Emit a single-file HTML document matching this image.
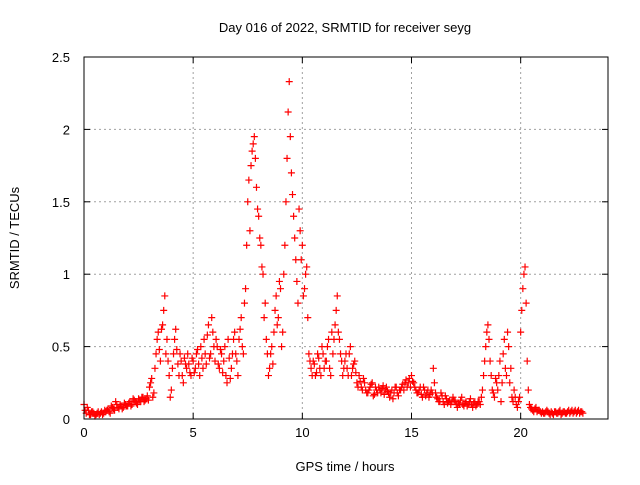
<!DOCTYPE html>
<html><head><meta charset="utf-8"><style>
html,body{margin:0;padding:0;background:#fff;}
svg text{font-family:"Liberation Sans",sans-serif;font-size:13px;fill:#000;}
</style></head><body>
<svg id="chart" width="640" height="480" viewBox="0 0 640 480">
<text x="345" y="32" text-anchor="middle">Day 016 of 2022, SRMTID for receiver seyg</text>
<text x="19" y="238" text-anchor="middle" transform="rotate(-90 19 238)">SRMTID / TECUs</text>
<text x="345" y="471" text-anchor="middle">GPS time / hours</text>
<g id="grid"></g>
<g id="marks"></g>
<rect x="84" y="57" width="524" height="362" fill="none" stroke="#000" stroke-width="1"/>
<g id="ticks"></g>
</svg>
<script>
const xTicks=[0,5,10,15,20];
const yTicks=[0,0.5,1,1.5,2,2.5];
const yTickLabels=["0","0.5","1","1.5","2","2.5"];
const tStart=0, tStep=0.1;
const srmtid=[
.10,.04,.06,.03,.05,.02,.04,.03,.05,.04,
.05,.07,.04,.08,.06,.10,.07,.09,.08,.10,
.09,.12,.10,.13,.11,.14,.12,.15,.13,.16,
.22,.28,.18,.45,.60,.40,.65,.85,.55,.30,
.20,.45,.62,.38,.45,.30,.42,.35,.38,.30,
.40,.35,.48,.30,.42,.55,.38,.65,.45,.60,
.40,.50,.35,.45,.40,.30,.55,.28,.45,.60,
.40,.55,.70,.45,.90,1.50,1.30,1.85,1.95,1.60,
1.40,1.20,1.00,.80,.45,.35,.50,.60,.85,.70,
.90,.60,1.20,1.80,2.33,1.70,1.40,1.10,.80,1.30,
1.20,.90,1.05,.45,.35,.40,.30,.45,.35,.50,
.35,.40,.55,.30,.45,.65,.85,.55,.40,.35,
.45,.30,.50,.35,.40,.25,.30,.22,.28,.20,
.18,.22,.25,.17,.20,.22,.18,.23,.20,.19,
.15,.20,.18,.22,.16,.20,.24,.25,.22,.28,
.30,.25,.20,.18,.22,.15,.20,.18,.15,.20,
.35,.18,.14,.12,.16,.10,.14,.12,.10,.15,
.12,.08,.10,.15,.09,.12,.10,.14,.08,.12,
.10,.12,.15,.30,.50,.65,.40,.20,.15,.25,
.30,.12,.45,.35,.60,.25,.15,.20,.10,.12,
.60,.90,1.05,.40,.10,.07,.05,.08,.06,.05,
.05,.04,.06,.04,.05,.03,.05,.04,.06,.04,
.05,.04,.06,.05,.04,.06,.05,.04,.05
];
const tStartMid=0.05;
const srmtidMid=[
.06,.08,.03,.05,.04,.03,.05,.04,.03,.06,
.06,.05,.09,.07,.12,.08,.10,.07,.11,.09,
.11,.09,.14,.12,.10,.13,.15,.12,.14,.13,
.25,.15,.35,.55,.48,.62,.75,.45,.40,.15,
.35,.55,.48,.30,.40,.25,.38,.45,.32,.42,
.32,.45,.38,.50,.35,.45,.58,.42,.70,.50,
.55,.38,.48,.32,.50,.25,.42,.35,.55,.45,
.30,.62,.50,.80,1.20,1.65,1.75,1.90,1.80,1.45,
1.25,1.05,.70,.55,.30,.45,.38,.75,.65,.95,
.50,1.00,1.50,2.12,1.95,1.55,1.25,.95,1.45,1.10,
.85,1.00,.70,.40,.30,.38,.32,.42,.30,.45,
.40,.50,.35,.60,.55,.75,.60,.45,.30,.40,
.35,.45,.30,.38,.32,.22,.26,.20,.25,.18,
.20,.24,.16,.22,.18,.20,.21,.17,.22,.18,
.18,.14,.22,.18,.20,.22,.20,.27,.25,.22,
.26,.22,.18,.20,.17,.22,.16,.20,.17,.18,
.25,.15,.12,.18,.12,.16,.11,.13,.12,.13,
.10,.11,.13,.10,.11,.09,.12,.10,.11,.09,
.12,.10,.20,.40,.60,.55,.30,.18,.28,.20,
.40,.25,.55,.30,.50,.35,.12,.15,.08,.15,
.75,1.00,.80,.20,.08,.06,.07,.05,.06,.04,
.04,.05,.05,.03,.04,.05,.04,.05,.03,.05,
.04,.05,.04,.06,.05,.04,.06,.05,.04
];
const X0=84,X1=608,Y0=419,Y1=57,XMAX=24,YMAX=2.5;
function xs(v){return X0+(X1-X0)*v/XMAX;}
function ys(v){return Y0-(Y0-Y1)*v/YMAX;}
const NS="http://www.w3.org/2000/svg";
const grid=document.getElementById('grid'),ticks=document.getElementById('ticks'),marks=document.getElementById('marks');
function mk(tag,attrs,parent){const e=document.createElementNS(NS,tag);for(const k in attrs)e.setAttribute(k,attrs[k]);parent.appendChild(e);return e;}
xTicks.forEach(function(t){
  const x=xs(t);
  if(t>0){const g=mk('line',{x1:x,x2:x,y1:Y1,y2:Y0,stroke:'#a0a0a0','stroke-dasharray':'2,3'},grid);
  
  }
  const a=mk('line',{x1:x,x2:x,y1:Y0,y2:Y0-6,stroke:'#000'},ticks);
  
  
  const b=mk('line',{x1:x,x2:x,y1:Y1,y2:Y1+6,stroke:'#000'},ticks);
  
  
  const l=mk('text',{x:x,y:Y0+18,'text-anchor':'middle'},ticks);
  l.textContent=String(t);
  
  
});
yTicks.forEach(function(t,i){
  const y=ys(t);
  if(t>0&&t<YMAX){const g=mk('line',{x1:X0,x2:X1,y1:y,y2:y,stroke:'#a0a0a0','stroke-dasharray':'2,3'},grid);
  
  }
  const a=mk('line',{x1:X0,x2:X0+6,y1:y,y2:y,stroke:'#000'},ticks);
  
  
  const b=mk('line',{x1:X1,x2:X1-6,y1:y,y2:y,stroke:'#000'},ticks);
  
  
  const l=mk('text',{x:X0-14,y:y+5,'text-anchor':'end'},ticks);
  l.textContent=yTickLabels[i];
  
  
});
function drawSeries(arr,t0){
  arr.forEach(function(v,i){
    const x=xs(t0+i*tStep),y=ys(v);
    const p=mk('path',{d:'M'+(x-3.5)+' '+y+'h7M'+x+' '+(y-3.5)+'v7',stroke:'#f00','stroke-width':'1.2',fill:'none'},marks);
    
    
  });
}
drawSeries(srmtid,tStart);
drawSeries(srmtidMid,tStartMid);
</script>
</body></html>
